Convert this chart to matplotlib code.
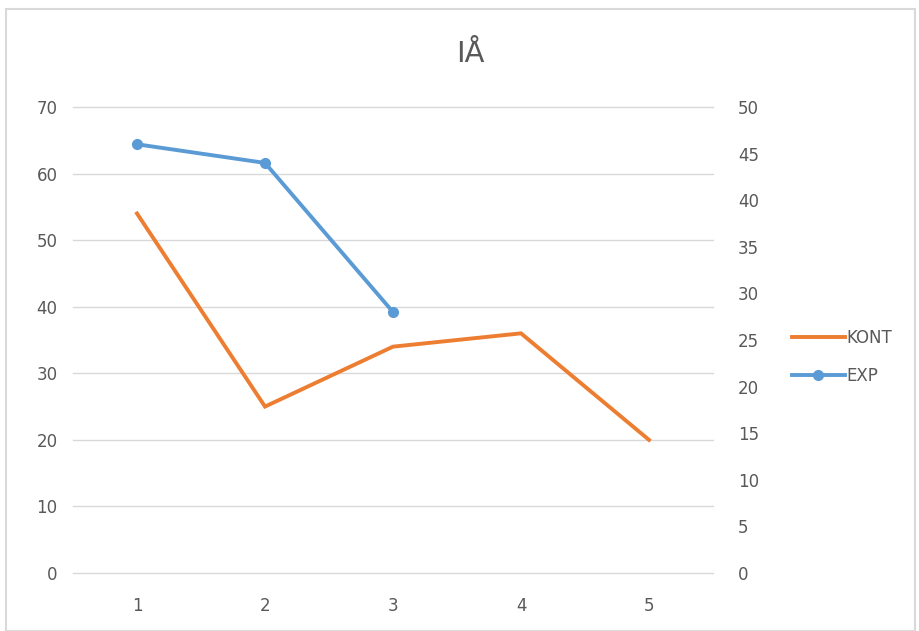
import matplotlib.pyplot as plt
from matplotlib.patches import Rectangle

# data
categories = [1, 2, 3, 4, 5]
kont = [54, 25, 34, 36, 20]      # left axis
exp_x = [1, 2, 3]
exp_vals = [46, 44, 28]          # right axis

orange = '#ED7D31'
blue = '#5B9BD5'
txt = '#595959'

plt.rcParams['font.family'] = ['Liberation Sans Narrow', 'DejaVu Sans']

fig = plt.figure(figsize=(9.19, 6.31), dpi=100)
fig.patches.append(Rectangle((0.006, 0.0), 0.99, 0.985, transform=fig.transFigure,
                             fill=False, edgecolor='#D9D9D9', lw=1.5))

ax = fig.add_axes([73 / 919, 1 - 573 / 631, 640 / 919, 466 / 631])
ax2 = ax.twinx()

ax.set_xlim(0.5, 5.5)
ax.set_ylim(0, 70)
ax.set_yticks(range(0, 71, 10))
ax2.set_ylim(0, 50)
ax2.set_yticks(range(0, 51, 5))
ax.set_xticks(categories)

ax.grid(axis='y', color='#D9D9D9', lw=1)
ax.set_axisbelow(True)
for g in ax.yaxis.get_gridlines():
    g.set_clip_on(False)

for a in (ax, ax2):
    for s in a.spines.values():
        s.set_visible(False)
    a.tick_params(length=0, colors=txt, labelsize=12)
ax.tick_params(axis='y', pad=11)
ax.tick_params(axis='x', pad=17)
ax2.tick_params(axis='y', pad=18)

l1, = ax.plot(categories, kont, color=orange, lw=2.8, solid_joinstyle='miter',
              label='KONT')
l2, = ax2.plot(exp_x, exp_vals, color=blue, lw=2.8, marker='o', markersize=7,
               label='EXP')

fig.legend(handles=[l1, l2], loc='center left', bbox_to_anchor=(0.845, 0.435),
           frameon=False, fontsize=12, labelcolor=txt, handlelength=3.2,
           handletextpad=0.1, labelspacing=1.2)

fig.text(0.512, 0.915, 'IÅ', ha='center', va='center', fontsize=21, color=txt)

fig.savefig('out.png', dpi=100)
